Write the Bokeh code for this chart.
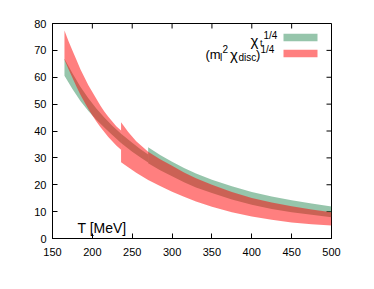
from bokeh.plotting import figure
from bokeh.models import Label, Range1d, FixedTicker
from bokeh.embed import file_html
from bokeh.resources import INLINE

# ---- data ----
# chi_t^(1/4), low-T segment
T_chi_a = [165, 175, 185, 195, 205, 215, 225, 236, 250, 260, 270]
chi_a_hi = [66.9, 61.5, 56.5, 52.2, 48.4, 45.0, 42.0, 39.0, 35.6, 33.3, 31.3]
chi_a_lo = [60.6, 55.6, 51.2, 47.4, 44.2, 41.3, 38.5, 35.5, 32.3, 30.2, 28.3]
# chi_t^(1/4), high-T segment
T_chi_b = [270, 285, 300, 315, 330, 350, 375, 400, 425, 450, 475, 500]
chi_b_hi = [34.0, 31.1, 28.6, 26.2, 24.2, 21.9, 19.4, 17.3, 15.6, 14.2, 13.0, 11.9]
chi_b_lo = [28.0, 25.4, 23.2, 20.9, 19.0, 16.9, 14.5, 12.6, 11.0, 9.8, 8.8, 7.9]
# (m_l^2 chi_disc)^(1/4), low-T segment
T_disc_a = [165, 170, 175, 180, 185, 190, 195, 200, 205, 210, 215, 220, 225, 230, 236]
disc_a_hi = [77.4, 73.5, 70.0, 66.5, 63.0, 60.0, 57.0, 54.5, 52.0, 49.5, 47.3, 45.3, 43.5, 41.8, 40.2]
disc_a_lo = [66.5, 63.1, 59.8, 56.6, 53.5, 50.8, 48.2, 45.8, 43.5, 41.5, 39.6, 37.8, 36.2, 34.6, 33.0]
# (m_l^2 chi_disc)^(1/4), high-T segment
T_disc_b = [236, 245, 255, 270, 285, 300, 315, 330, 350, 375, 400, 425, 450, 475, 500]
disc_b_hi = [43.3, 39.6, 36.2, 32.3, 29.5, 27.1, 24.6, 22.4, 20.0, 17.3, 15.1, 13.4, 12.0, 10.8, 9.8]
disc_b_lo = [28.4, 26.5, 24.5, 21.8, 19.5, 17.4, 15.5, 13.8, 11.8, 9.8, 8.2, 7.0, 6.0, 5.3, 4.8]

x_ticks = [150, 200, 250, 300, 350, 400, 450, 500]
y_ticks = [0, 10, 20, 30, 40, 50, 60, 70, 80]

GREEN = "#2e8b57"
RED = "#ff0000"
FONT = "Liberation Sans"

X0, X1, Y0, Y1 = 150, 500, 0, 80
FW, FH = 279, 215
FL, FT = 52, 23  # frame left / top in page pixels

p = figure(frame_width=FW, frame_height=FH,
           x_range=Range1d(X0, X1), y_range=Range1d(Y0, Y1),
           output_backend="svg", toolbar_location=None,
           min_border_left=FL, min_border_right=30,
           min_border_top=FT, min_border_bottom=40)
p.xgrid.visible = False
p.ygrid.visible = False
p.outline_line_color = "black"
p.outline_line_width = 1
p.background_fill_color = "white"
p.border_fill_color = "white"

for ax, tk in ((p.xaxis[0], x_ticks), (p.yaxis[0], y_ticks)):
    ax.ticker = FixedTicker(ticks=tk)
    ax.major_tick_in = 5
    ax.major_tick_out = 0
    ax.minor_tick_in = 0
    ax.minor_tick_out = 0
    ax.axis_line_color = "black"
    ax.major_tick_line_color = "black"
    ax.major_label_text_font = FONT
    ax.major_label_text_font_size = "11px"
    ax.major_label_text_color = "black"
p.xaxis.major_label_standoff = 9
p.yaxis.major_label_standoff = 6

# mirror ticks on the top and right borders (5 px long, drawn inward)
tx = 5 * (X1 - X0) / FW
ty = 5 * (Y1 - Y0) / FH
p.segment(x0=x_ticks, x1=x_ticks, y0=[Y1] * len(x_ticks), y1=[Y1 - ty] * len(x_ticks),
          line_color="black", line_width=1)
p.segment(x0=[X1] * len(y_ticks), x1=[X1 - tx] * len(y_ticks), y0=y_ticks, y1=y_ticks,
          line_color="black", line_width=1)

# bands
p.varea(x=T_chi_a, y1=chi_a_lo, y2=chi_a_hi, fill_color=GREEN, fill_alpha=0.5)
p.varea(x=T_chi_b, y1=chi_b_lo, y2=chi_b_hi, fill_color=GREEN, fill_alpha=0.5)
p.varea(x=T_disc_a, y1=disc_a_lo, y2=disc_a_hi, fill_color=RED, fill_alpha=0.5)
p.varea(x=T_disc_b, y1=disc_b_lo, y2=disc_b_hi, fill_color=RED, fill_alpha=0.5)


def dx(px):
    return X0 + (px - FL) * (X1 - X0) / FW


def dy(py):
    return (FT + FH - py) * (Y1 - Y0) / FH


def lab(text, px, py, size, align="left"):
    p.add_layout(Label(x=dx(px), y=dy(py), text=text, text_font=FONT,
                       text_font_size=size, text_color="black",
                       text_align=align, text_baseline="alphabetic"))


# x axis title placed inside the frame
lab("T [MeV]", 77, 227, "14px")

# legend entry 1: chi_t^(1/4)
lab("χ", 250, 39.5, "15px")
lab("t", 259.5, 42.5, "9px")
lab("1/4", 263, 35, "10px")
# legend entry 2: (m_l^2 chi_disc)^(1/4)
lab("(m", 205, 53.5, "13px")
lab("l", 219.5, 56.5, "10px")
lab("2", 222, 48.5, "10px")
lab("χ", 229.5, 53.5, "15px")
lab("disc", 238, 57, "10px")
lab(")", 255.5, 53.5, "13px")
lab("1/4", 260, 48.5, "10px")

# legend swatches
p.quad(left=[dx(283)], right=[dx(317)], bottom=[dy(40.7)], top=[dy(33.3)],
       fill_color=GREEN, fill_alpha=0.5, line_color=None)
p.quad(left=[dx(283)], right=[dx(317)], bottom=[dy(56.7)], top=[dy(49.3)],
       fill_color=RED, fill_alpha=0.5, line_color=None)

open("out.html", "w").write(file_html(p, INLINE))
